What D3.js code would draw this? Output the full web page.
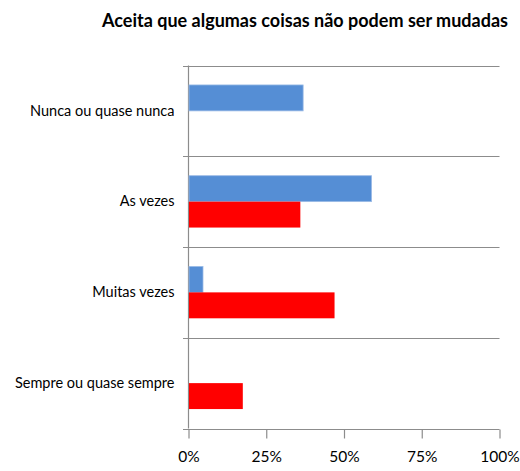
<!DOCTYPE html>
<html><head><meta charset="utf-8">
<script src="https://cdn.jsdelivr.net/npm/d3@7"></script>
<style>body{margin:0;background:#fff}svg{display:block}</style>
</head><body>
<script>
const categories = ["Nunca ou quase nunca", "As vezes", "Muitas vezes", "Sempre ou quase sempre"];
const seriesNames = ["Série A", "Série B"];
const seriesA = [0.367, 0.587, 0.045, 0];
const seriesB = [0, 0.358, 0.468, 0.173];
const tickValues = [0, 0.25, 0.5, 0.75, 1];
const tickLabels = ["0%", "25%", "50%", "75%", "100%"];
const colors = ["#558ED5", "#FF0000"];
const title = "Aceita que algumas coisas não podem ser mudadas";

const W = 520, H = 471;
const svg = d3.select("body").append("svg").attr("width", W).attr("height", H);
const FONT = "Lato, 'Open Sans', sans-serif";

const x = d3.scaleLinear().domain([0, 1]).range([188.5, 499.5]);
const y = d3.scaleBand().domain(categories).range([65.5, 428.5]).paddingInner(0).paddingOuter(0);
const ys = d3.scaleBand().domain(seriesNames).range([0, y.bandwidth()]).paddingInner(0).paddingOuter(0.75);

// category separator lines
const bounds = categories.map(c => y(c)).concat([y.range()[1]]);
svg.append("g").selectAll("line").data(bounds).join("line")
  .attr("x1", 183).attr("x2", x(1))
  .attr("y1", d => Math.round(d) + 0.5).attr("y2", d => Math.round(d) + 0.5)
  .attr("stroke", "#8c8c8c").attr("stroke-width", 1.2);

// vertical axis line
svg.append("line").attr("x1", x(0)).attr("x2", x(0))
  .attr("y1", y.range()[0]).attr("y2", y.range()[1])
  .attr("stroke", "#8c8c8c").attr("stroke-width", 1.2);

// bars
const data = [];
categories.forEach((c, i) => {
  [seriesA, seriesB].forEach((s, j) => {
    if (s[i] > 0) data.push({c, s: seriesNames[j], v: s[i], color: colors[j]});
  });
});
svg.append("g").selectAll("rect").data(data).join("rect")
  .attr("x", x(0) + 0.5)
  .attr("y", d => y(d.c) + ys(d.s))
  .attr("width", d => x(d.v) - x(0))
  .attr("height", ys.bandwidth())
  .attr("fill", d => d.color)
  .attr("stroke", d => d.color === colors[0] ? "#9bbbe6" : "none")
  .attr("stroke-width", 0.8);

// x axis
const xAxis = d3.axisBottom(x).tickValues(tickValues)
  .tickFormat((d, i) => tickLabels[i]).tickSize(9).tickSizeOuter(0).tickPadding(12);
const gx = svg.append("g").attr("transform", `translate(0,${Math.round(y.range()[1]) + 0.5})`).call(xAxis);
gx.select(".domain").remove();
gx.selectAll(".tick line").attr("stroke", "#8c8c8c").attr("stroke-width", 1.2);
gx.selectAll(".tick text").attr("font-family", FONT).attr("font-size", 15.5).attr("fill", "#000");

// y axis labels
const yAxis = d3.axisLeft(y).tickSize(0).tickPadding(14);
const gy = svg.append("g").attr("transform", `translate(${x(0)},0)`).call(yAxis);
gy.select(".domain").remove();
gy.selectAll(".tick text").attr("font-family", FONT).attr("font-size", 14.5).attr("fill", "#000");

// title
svg.append("text").attr("x", 305).attr("y", 27).attr("text-anchor", "middle")
  .attr("font-family", FONT).attr("font-weight", "bold").attr("font-size", 18).attr("fill", "#000")
  .text(title);
</script>
</body></html>
